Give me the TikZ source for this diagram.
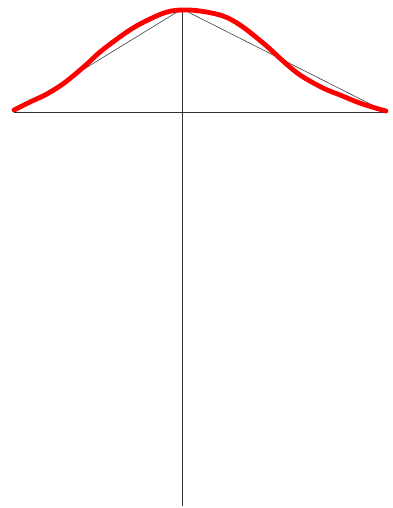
\documentclass[tikz,border=0pt]{standalone}
\begin{document}
\begin{tikzpicture}[x=1pt,y=-1pt,
  axis/.style={line width=0.8pt,black!80},
  chord/.style={line width=0.6pt,black!75},
  bell/.style={line width=4.8pt,red,line cap=round,line join=round}]
\useasboundingbox[fill=white] (0,0) rectangle (393,508);
\coordinate (L) at (14,112);
\coordinate (R) at (387,112);
\coordinate (T) at (182,9);
\coordinate (B) at (182,506);
\coordinate (RC) at (386,112);
\draw[axis] (L) -- (R);
\draw[axis] (T) -- (B);
\draw[chord] (T) -- (L);
\draw[chord] (T) -- (RC);
\draw[bell] plot[smooth,tension=0.6] coordinates {
 (14,110) (30,102) (45,95) (60,86) (73,76) (87,64) (100,52) (117,39) (133,28) (150,19) (167,12) (182,10)
 (200,11) (223,16) (240,25) (257,38) (270,49) (283,61) (300,75) (323,88) (340,95) (357,102) (372,107) (386,111)};
\end{tikzpicture}
\end{document}
